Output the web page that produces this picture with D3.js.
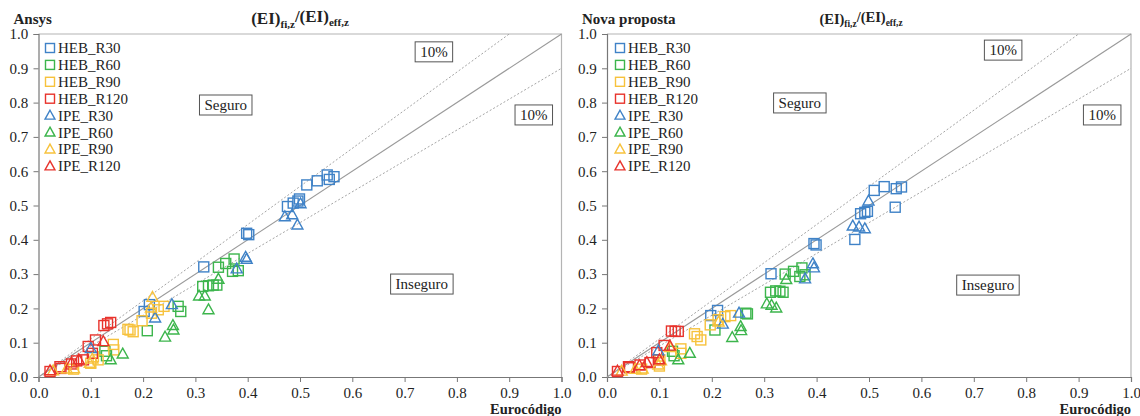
<!DOCTYPE html>
<html>
<head>
<meta charset="utf-8">
<script src="https://cdn.jsdelivr.net/npm/d3@7"></script>
<style>
  html, body { margin: 0; padding: 0; background: #fff; }
  svg { display: block; }
  text { font-family: "Liberation Serif", "Times New Roman", serif; fill: #222; }
</style>
</head>
<body>
<svg id="chart" width="1140" height="416"></svg>
<script>
// Series names (legend order) and the tick labels on both axes
const seriesNames = ["HEB_R30", "HEB_R60", "HEB_R90", "HEB_R120", "IPE_R30", "IPE_R60", "IPE_R90", "IPE_R120"];
const tickValues = [0, 0.1, 0.2, 0.3, 0.4, 0.5, 0.6, 0.7, 0.8, 0.9, 1.0];

// Ansys panel: [Eurocódigo, (EI)fi,z/(EI)eff,z]
const ansysHEB_R30 = [[0.316,0.321],[0.202,0.191],[0.212,0.211],[0.398,0.419],[0.402,0.415],[0.476,0.497],[0.487,0.507],[0.496,0.513],[0.499,0.519],[0.513,0.560],[0.533,0.572],[0.552,0.589],[0.556,0.576],[0.565,0.584]];
const ansysHEB_R60 = [[0.127,0.075],[0.130,0.062],[0.208,0.135],[0.267,0.206],[0.272,0.191],[0.314,0.264],[0.325,0.266],[0.334,0.268],[0.341,0.268],[0.344,0.320],[0.358,0.331],[0.374,0.344],[0.371,0.308],[0.382,0.310]];
const ansysHEB_R90 = [[0.067,0.023],[0.100,0.040],[0.105,0.059],[0.114,0.050],[0.143,0.095],[0.144,0.079],[0.171,0.139],[0.175,0.137],[0.181,0.132],[0.198,0.164],[0.216,0.186],[0.229,0.196],[0.240,0.206]];
const ansysHEB_R120 = [[0.022,0.016],[0.041,0.030],[0.043,0.025],[0.063,0.038],[0.073,0.047],[0.086,0.050],[0.095,0.089],[0.103,0.069],[0.109,0.108],[0.125,0.150],[0.132,0.155],[0.138,0.159]];
const ansysIPE_R30 = [[0.100,0.083],[0.223,0.172],[0.255,0.211],[0.379,0.315],[0.396,0.349],[0.398,0.343],[0.471,0.467],[0.485,0.473],[0.495,0.443],[0.501,0.505]];
const ansysIPE_R60 = [[0.138,0.050],[0.161,0.067],[0.242,0.116],[0.257,0.150],[0.258,0.137],[0.307,0.236],[0.318,0.236],[0.325,0.196],[0.344,0.285]];
const ansysIPE_R90 = [[0.028,0.018],[0.054,0.023],[0.068,0.024],[0.098,0.040],[0.103,0.052],[0.215,0.201],[0.218,0.232]];
const ansysIPE_R120 = [[0.022,0.018],[0.063,0.041],[0.077,0.050],[0.124,0.103]];

// Nova proposta panel: [Eurocódigo, (EI)fi,z/(EI)eff,z]
const novaHEB_R30 = [[0.313,0.301],[0.198,0.179],[0.211,0.194],[0.395,0.389],[0.399,0.385],[0.473,0.401],[0.484,0.476],[0.492,0.480],[0.497,0.483],[0.510,0.544],[0.529,0.555],[0.550,0.495],[0.552,0.549],[0.562,0.554]];
const novaHEB_R60 = [[0.125,0.075],[0.128,0.062],[0.206,0.137],[0.265,0.186],[0.268,0.184],[0.312,0.247],[0.322,0.251],[0.330,0.250],[0.336,0.247],[0.340,0.300],[0.356,0.308],[0.372,0.318],[0.368,0.293],[0.378,0.298]];
const novaHEB_R90 = [[0.066,0.023],[0.100,0.032],[0.101,0.050],[0.141,0.082],[0.141,0.069],[0.167,0.126],[0.172,0.118],[0.179,0.108],[0.197,0.152],[0.212,0.167],[0.225,0.176],[0.236,0.179]];
const novaHEB_R120 = [[0.020,0.016],[0.041,0.030],[0.043,0.027],[0.063,0.035],[0.082,0.042],[0.098,0.050],[0.095,0.071],[0.109,0.092],[0.123,0.134],[0.130,0.133],[0.136,0.133]];
const novaIPE_R30 = [[0.098,0.076],[0.221,0.154],[0.252,0.186],[0.378,0.286],[0.393,0.330],[0.395,0.318],[0.469,0.440],[0.481,0.437],[0.492,0.432],[0.499,0.513]];
const novaIPE_R60 = [[0.136,0.050],[0.158,0.069],[0.239,0.115],[0.255,0.147],[0.256,0.135],[0.305,0.213],[0.314,0.209],[0.323,0.201],[0.342,0.284]];
const novaIPE_R90 = [[0.028,0.017],[0.054,0.022],[0.068,0.023],[0.098,0.035],[0.103,0.047],[0.120,0.086],[0.213,0.160]];
const novaIPE_R120 = [[0.020,0.017],[0.062,0.033],[0.076,0.042],[0.100,0.050],[0.120,0.090]];

const colors = {
  "HEB_R30": "#3f82c7", "HEB_R60": "#3cb54c", "HEB_R90": "#f7c23c", "HEB_R120": "#e8332c",
  "IPE_R30": "#3f82c7", "IPE_R60": "#3cb54c", "IPE_R90": "#f7c23c", "IPE_R120": "#e8332c"
};

const panels = [
  {
    name: "Ansys", titleSize: 17, titleX: 300,
    x: [38.5, 561.5], y: [377, 34],
    series: [ansysHEB_R30, ansysHEB_R60, ansysHEB_R90, ansysHEB_R120, ansysIPE_R30, ansysIPE_R60, ansysIPE_R90, ansysIPE_R120],
    legendX: 50, seguro: [0.358, 0.793], inseguro: [0.733, 0.271], top10: [0.756, 0.948], right10: [0.947, 0.764]
  },
  {
    name: "Nova proposta", titleSize: 14.5, titleX: 861,
    x: [607, 1131], y: [377, 34],
    series: [novaHEB_R30, novaHEB_R60, novaHEB_R90, novaHEB_R120, novaIPE_R30, novaIPE_R60, novaIPE_R90, novaIPE_R120],
    legendX: 620, seguro: [0.368, 0.799], inseguro: [0.727, 0.268], top10: [0.756, 0.953], right10: [0.945, 0.764]
  }
];

const svg = d3.select("#chart");

panels.forEach(p => {
  const xs = d3.scaleLinear().domain([0, 1]).range(p.x);
  const ys = d3.scaleLinear().domain([0, 1]).range(p.y);
  const g = svg.append("g");

  // top and right frame
  g.append("path")
    .attr("d", `M${xs(0)},${ys(1)}H${xs(1)}V${ys(0)}`)
    .attr("fill", "none").attr("stroke", "#b4b4b4").attr("stroke-width", 1.2);

  // axes
  const xAxis = d3.axisBottom(xs).tickValues(tickValues).tickFormat(d3.format(".1f")).tickSize(5);
  const yAxis = d3.axisLeft(ys).tickValues(tickValues).tickFormat(d3.format(".1f")).tickSize(5);
  const gx = g.append("g").attr("transform", `translate(0,${ys(0)})`).call(xAxis);
  const gy = g.append("g").attr("transform", `translate(${xs(0)},0)`).call(yAxis);
  [gx, gy].forEach(a => {
    a.select(".domain").attr("stroke", "#777").attr("stroke-width", 1.2);
    a.selectAll(".tick line").attr("stroke", "#777").attr("stroke-width", 1);
    a.selectAll(".tick text").attr("font-family", "Liberation Serif").attr("font-size", 15).attr("fill", "#222");
  });
  gx.selectAll(".tick text").attr("dy", "0.85em");
  gy.selectAll(".tick text").attr("dx", "-0.15em");

  // reference lines: y = x and the ±10% bounds
  const line = d3.line().x(d => xs(d[0])).y(d => ys(d[1]));
  g.append("path").attr("d", line([[0, 0], [1, 1]]))
    .attr("stroke", "#9a9a9a").attr("stroke-width", 1.1).attr("fill", "none");
  [[[0, 0], [0.9, 1]], [[0, 0], [1, 0.9]]].forEach(seg => {
    g.append("path").attr("d", line(seg))
      .attr("stroke", "#9a9a9a").attr("stroke-width", 0.9).attr("stroke-dasharray", "2,2").attr("fill", "none");
  });

  // labelled boxes
  const boxLabel = (txt, pos) => {
    const t = g.append("text").attr("x", xs(pos[0])).attr("y", ys(pos[1]))
      .attr("text-anchor", "middle").attr("dominant-baseline", "central")
      .attr("font-size", 15).text(txt);
    const bb = t.node().getBBox();
    g.insert("rect", () => t.node())
      .attr("x", bb.x - 5).attr("y", bb.y - 2).attr("width", bb.width + 10).attr("height", bb.height + 4)
      .attr("fill", "#fff").attr("stroke", "#555").attr("stroke-width", 1);
  };
  boxLabel("Seguro", p.seguro);
  boxLabel("Inseguro", p.inseguro);
  boxLabel("10%", p.top10);
  boxLabel("10%", p.right10);

  // markers
  const sq = 10, tri = 11;
  const drawMarker = (sel, name, cx, cy, s) => {
    const k = s || 1;
    if (name.startsWith("HEB")) {
      sel.append("rect").attr("x", cx - sq * k / 2).attr("y", cy - sq * k / 2).attr("width", sq * k).attr("height", sq * k)
        .attr("fill", "none").attr("stroke", colors[name]).attr("stroke-width", 1.4);
    } else {
      const w = tri * k, h = w * 0.9;
      sel.append("path")
        .attr("d", `M${cx},${cy - h * 0.6}L${cx + w / 2},${cy + h * 0.4}L${cx - w / 2},${cy + h * 0.4}Z`)
        .attr("fill", "none").attr("stroke", colors[name]).attr("stroke-width", 1.4);
    }
  };
  p.series.forEach((pts, i) => {
    const name = seriesNames[i];
    const sg = g.append("g");
    pts.forEach(d => drawMarker(sg, name, xs(d[0]), ys(d[1])));
  });

  // legend
  seriesNames.forEach((name, i) => {
    const ly = 48 + i * 16.9;
    drawMarker(g, name, p.legendX, ly, 0.9);
    g.append("text").attr("x", p.legendX + 8).attr("y", ly).attr("dominant-baseline", "central")
      .attr("font-size", 15).text(name);
  });

  // panel name, title, x-axis name
  g.append("text").attr("x", p.x[0] - 25).attr("y", 24).attr("font-weight", "bold").attr("font-size", 15).text(p.name);
  const title = g.append("text").attr("x", p.titleX).attr("y", 24)
    .attr("text-anchor", "middle").attr("font-weight", "bold").attr("font-size", p.titleSize);
  title.append("tspan").text("(EI)");
  title.append("tspan").attr("font-size", p.titleSize * 0.65).attr("dy", "0.35em").text("fi,z");
  title.append("tspan").attr("dy", "-0.35em").text("/(EI)");
  title.append("tspan").attr("font-size", p.titleSize * 0.65).attr("dy", "0.35em").text("eff,z");
  g.append("text").attr("x", p.x[1]).attr("y", 414).attr("text-anchor", "end")
    .attr("font-weight", "bold").attr("font-size", 14.5).text("Eurocódigo");
});
</script>
</body>
</html>
